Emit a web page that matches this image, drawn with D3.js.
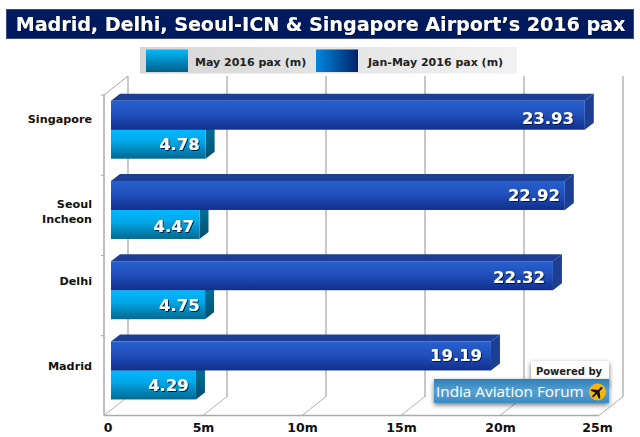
<!DOCTYPE html>
<html>
<head>
<meta charset="utf-8">
<script src="https://cdnjs.cloudflare.com/ajax/libs/d3/7.8.5/d3.min.js"></script>
<style>
	html, body { margin: 0; padding: 0; background: #fff; }
	svg { display: block; font-family: 'DejaVu Sans', sans-serif; }
</style>
</head>
<body>
<svg id="chart" width="640" height="437"></svg>
<script>
const airports = ['Singapore', 'Seoul\nIncheon', 'Delhi', 'Madrid'];
const mayPax = [4.78, 4.47, 4.75, 4.29];
const janMayPax = [23.93, 22.92, 22.32, 19.19];
const ticks = [0, 5, 10, 15, 20, 25];
const legendLabels = ['May 2016 pax (m)', 'Jan-May 2016 pax (m)'];
const titleText = 'Madrid, Delhi, Seoul-ICN & Singapore Airport’s 2016 pax';

const svg = d3.select('#chart');
const defs = svg.append('defs');

// Depth of the fake 3D, wall and bars
const wallX = 24, wallY = -19;
const barDx = 9, barDy = -7;
const barInset = 7;

// The labels in the original sit a bit unevenly, these follow it
const janGap = [11, 5, 8, 9];
const janBase = [23, 20.5, 21.7, 19.7];
const mayGap = [6, 5.5, 5.5, 7.3];
const mayBase = [20.5, 22, 20.5, 20.7];
const catShift = [-16, -4, -14.5, -10];

const x = d3.scaleLinear().domain([0, 25]).range([104, 599]);
const y = d3.scaleBand().domain(airports).range([95, 416]);
const barH = 29;

function gradient(id, stops, horizontal) {
	const g = defs.append('linearGradient').attr('id', id)
		.attr('x1', 0).attr('y1', 0)
		.attr('x2', horizontal ? 1 : 0).attr('y2', horizontal ? 0 : 1);
	stops.forEach(([o, c]) => g.append('stop').attr('offset', o).attr('stop-color', c));
}
gradient('darkFront', [[0, '#2660cf'], [0.45, '#2150bb'], [1, '#102f8c']]);
gradient('lightFront', [[0, '#00b8ff'], [0.4, '#00a8e8'], [1, '#00688f']]);
gradient('lightSide', [[0, '#00759f'], [1, '#004f70']]);
gradient('legendBg', [[0, '#d6d6d6'], [1, '#f2f2f2']], true);
gradient('swatchLight', [[0, '#00b8fa'], [1, '#005f88']]);
gradient('swatchDark', [[0, '#0088e0'], [1, '#002266']], true);
gradient('logoBg', [[0, '#2f7fb8'], [0.5, '#559fd0'], [1, '#3a8cc4']]);

const shadow = defs.append('filter').attr('id', 'textShadow')
	.attr('x', '-10%').attr('y', '-20%').attr('width', '130%').attr('height', '150%');
shadow.append('feDropShadow').attr('dx', 1).attr('dy', 1).attr('stdDeviation', 0.6)
	.attr('flood-color', '#001040').attr('flood-opacity', 0.9);
const boxShadow = defs.append('filter').attr('id', 'boxShadow')
	.attr('x', '-10%').attr('y', '-30%').attr('width', '120%').attr('height', '170%');
boxShadow.append('feDropShadow').attr('dx', 0).attr('dy', 2).attr('stdDeviation', 2.5)
	.attr('flood-color', '#000').attr('flood-opacity', 0.55);

// Title
svg.append('rect').attr('x', 6.5).attr('y', 9.5).attr('width', 627).attr('height', 29)
	.attr('fill', '#001a5e').attr('stroke', '#3b4a80');
svg.append('text').attr('x', 320.5).attr('y', 31).attr('text-anchor', 'middle')
	.attr('fill', '#fff').attr('font-size', 19.1).attr('font-weight', 'bold')
	.attr('filter', 'url(#textShadow)').text(titleText);

// Legend
svg.append('rect').attr('x', 140).attr('y', 47).attr('width', 377).attr('height', 26.5)
	.attr('fill', 'url(#legendBg)');
const legendX = [146, 316];
const legendTextX = [195, 368];
legendLabels.forEach((d, i) => {
	svg.append('rect').attr('x', legendX[i]).attr('y', 49.5).attr('width', 42).attr('height', 22.5)
		.attr('fill', i ? 'url(#swatchDark)' : 'url(#swatchLight)');
	svg.append('text').attr('x', legendTextX[i]).attr('y', 65.5)
		.attr('font-size', 11).attr('font-weight', 'bold').attr('fill', '#222').text(d);
});

// Walls and gridlines
const grid = svg.append('g');
grid.selectAll('.back').data(ticks).join('line')
	.attr('x1', (d) => x(d) + wallX).attr('x2', (d) => x(d) + wallX)
	.attr('y1', 416 + wallY).attr('y2', 76)
	.attr('stroke', '#c8c8c8').attr('stroke-width', 2);
grid.selectAll('.diag').data(ticks).join('line')
	.attr('x1', (d) => x(d)).attr('x2', (d) => x(d) + wallX)
	.attr('y1', 415.5).attr('y2', 415.5 + wallY)
	.attr('stroke', '#b0b0b0').attr('stroke-width', 1);
grid.append('line').attr('x1', x(0)).attr('x2', x(0) + wallX)
	.attr('y1', 95).attr('y2', 76).attr('stroke', '#a8a8a8');
grid.append('line').attr('x1', x(0)).attr('x2', x(0)).attr('y1', 95).attr('y2', 415.5)
	.attr('stroke', '#aaa').attr('stroke-width', 1.5);
grid.append('line').attr('x1', x(0)).attr('x2', x(25)).attr('y1', 415.5).attr('y2', 415.5)
	.attr('stroke', '#aaa').attr('stroke-width', 1.5);
grid.selectAll('.tick-y').data(airports).join('line')
	.attr('x1', 101).attr('x2', x(0))
	.attr('y1', (d) => y(d)).attr('y2', (d) => y(d))
	.attr('stroke', '#aaa');

// x axis labels
const axis = svg.append('g').attr('transform', 'translate(0,415.5)')
	.call(d3.axisBottom(x).tickValues(ticks).tickSize(0).tickPadding(8)
		.tickFormat((d) => (d ? d + 'm' : '0')));
axis.select('.domain').remove();
axis.selectAll('text').attr('font-size', 12.5).attr('font-weight', 'bold')
	.attr('font-family', "'DejaVu Sans', sans-serif").attr('fill', '#111')
	.attr('dx', (d) => (d === 0 ? 3.5 : d === 25 ? -2 : 0));

// Bars. The May bar goes first so the Jan-May bar hides its top face.
function drawBar(g, value, top, frontFill, topFill, sideFill, gap, base) {
	const x0 = x(0) + barInset;
	const x1 = x(value) + barInset;
	const line = d3.line();
	g.append('path').attr('fill', topFill).attr('d', line([
		[x0, top], [x0 + barDx, top + barDy], [x1 + barDx, top + barDy], [x1, top],
	]) + 'Z');
	g.append('path').attr('fill', sideFill).attr('d', line([
		[x1, top], [x1 + barDx, top + barDy], [x1 + barDx, top + barH + barDy], [x1, top + barH],
	]) + 'Z');
	g.append('rect').attr('x', x0).attr('y', top).attr('width', x1 - x0).attr('height', barH)
		.attr('fill', frontFill);
	g.append('text').attr('x', x1 - gap).attr('y', top + base).attr('text-anchor', 'end')
		.attr('font-size', 16.4).attr('font-weight', 'bold').attr('fill', '#fff')
		.attr('filter', 'url(#textShadow)').text(value.toFixed(2));
}

const groups = svg.selectAll('.airport').data(airports).join('g')
	.attr('class', 'airport');
groups.each(function (d, i) {
	const g = d3.select(this);
	const top = y(d) + 5.7;
	drawBar(g, mayPax[i], top + barH, 'url(#lightFront)', '#00688f', 'url(#lightSide)', mayGap[i], mayBase[i]);
	drawBar(g, janMayPax[i], top, 'url(#darkFront)', '#1c3f94', '#1c3f94', janGap[i], janBase[i]);
});

// Category labels
svg.selectAll('.cat').data(airports).join('text')
	.attr('class', 'cat')
	.attr('text-anchor', 'end').attr('font-size', 11.2).attr('font-weight', 'bold').attr('fill', '#111')
	.each(function (d, k) {
		const parts = d.split('\n');
		const mid = y(d) + y.bandwidth() / 2 + catShift[k] + 4;
		d3.select(this).selectAll('tspan').data(parts).join('tspan')
			.attr('x', 92)
			.attr('y', (p, i) => mid + (i - (parts.length - 1) / 2) * 15)
			.text((p) => p);
	});

// Powered by badge
svg.append('rect').attr('x', 531).attr('y', 361).attr('width', 78).attr('height', 24)
	.attr('fill', '#fff').attr('filter', 'url(#boxShadow)');
svg.append('text').attr('x', 569).attr('y', 375).attr('text-anchor', 'middle')
	.attr('font-size', 10).attr('font-weight', 'bold').attr('fill', '#222').text('Powered by');
svg.append('rect').attr('x', 434).attr('y', 379).attr('width', 175).attr('height', 24)
	.attr('fill', 'url(#logoBg)').attr('filter', 'url(#boxShadow)');
svg.append('text').attr('x', 436).attr('y', 397)
	.attr('font-family', "'Open Sans', sans-serif").attr('font-size', 15.3).attr('fill', '#fff')
	.text('India Aviation Forum');
const badge = svg.append('g').attr('transform', 'translate(597.5,392)');
badge.append('circle').attr('r', 8.5).attr('fill', '#f5b70f');
badge.append('path').attr('fill', '#111').attr('transform', 'rotate(-45)')
	.attr('d', 'M-7,-0.9 L-2,-1 L-4,-6 L-2,-6 L2,-1 L6,-1 Q7.5,0 6,1 L2,1 L-2,6 L-4,6 L-2,1 L-7,0.9 Z');
</script>
</body>
</html>
